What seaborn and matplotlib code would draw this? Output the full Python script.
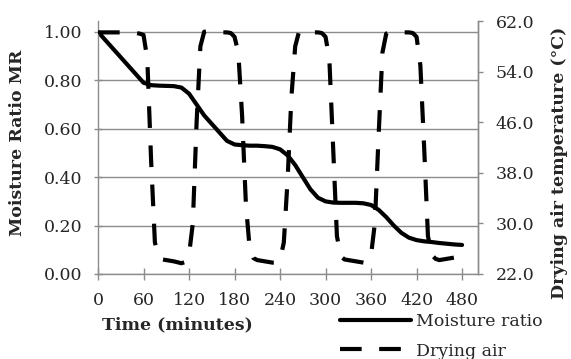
import matplotlib
matplotlib.use("Agg")
import matplotlib.pyplot as plt
import seaborn as sns
import numpy as np

# ---- data ----
mr_time = [0, 10, 20, 30, 40, 50, 60, 70, 80, 90, 100, 110, 120, 130, 140, 150, 160,
           170, 180, 190, 200, 210, 220, 230, 240, 250, 260, 270, 280, 290, 300, 310,
           320, 330, 340, 350, 360, 370, 380, 390, 400, 410, 420, 430, 440, 450, 460,
           470, 480]
moisture_ratio = [1.00, 0.965, 0.93, 0.895, 0.86, 0.825, 0.79, 0.78, 0.778, 0.777, 0.776,
                  0.77, 0.745, 0.70, 0.655, 0.62, 0.585, 0.55, 0.535, 0.532, 0.53, 0.53,
                  0.528, 0.525, 0.515, 0.49, 0.45, 0.40, 0.35, 0.315, 0.30, 0.295, 0.294,
                  0.294, 0.294, 0.292, 0.285, 0.265, 0.235, 0.20, 0.17, 0.15, 0.14, 0.135,
                  0.132, 0.128, 0.125, 0.122, 0.12]

air_time = [0, 10, 20, 30, 40, 50, 55, 60, 65, 70, 75, 80, 85, 90, 100, 110, 115, 120,
            125, 130, 135, 140, 145, 150, 160, 170, 175, 180, 185, 190, 195, 200, 205,
            210, 220, 230, 235, 240, 245, 250, 255, 260, 265, 270, 280, 290, 295, 300,
            305, 310, 315, 320, 325, 330, 340, 350, 355, 360, 365, 370, 375, 380, 385,
            390, 400, 410, 415, 420, 425, 430, 435, 440, 445, 450, 460, 470, 480]
air_temp = [60.2, 60.2, 60.2, 60.2, 60.2, 60.1, 60.0, 59.8, 56, 40, 27, 24.6, 24.3, 24.2,
            24.0, 23.7, 23.9, 25, 30, 46, 58, 60.3, 60.4, 60.3, 60.2, 60.2, 60.1, 59.5,
            57, 47, 33, 26, 24.5, 24.2, 24.0, 23.8, 23.8, 24.2, 27, 37, 50, 58, 60.3,
            60.3, 60.2, 60.2, 60.1, 59.5, 56, 42, 28, 24.8, 24.3, 24.2, 24.0, 23.8, 24.0,
            25, 30, 44, 57, 60, 60.3, 60.3, 60.2, 60.2, 60.1, 59.5, 55, 42, 28, 25,
            24.4, 24.2, 24.4, 24.6, 24.9]

x_ticks = [0, 60, 120, 180, 240, 300, 360, 420, 480]
mr_ticks = [0.0, 0.2, 0.4, 0.6, 0.8, 1.0]
temp_ticks = [22.0, 30.0, 38.0, 46.0, 54.0, 62.0]

# ---- style ----
sns.set_theme(style="white")
plt.rcParams["font.family"] = ["DejaVu Serif"]
FS = 12.5
GRAY = "#8c8c8c"

fig = plt.figure(figsize=(5.71, 3.59), dpi=100)
ax = fig.add_axes([98 / 571, 1 - 274 / 359, 380 / 571, 253 / 359])
ax2 = ax.twinx()

sns.lineplot(x=mr_time, y=moisture_ratio, ax=ax, color="black", linewidth=3.0,
             label="Moisture ratio", legend=False)
sns.lineplot(x=air_time, y=air_temp, ax=ax2, color="black", linewidth=3.0,
             label="Drying air", legend=False)

mr_line = ax.get_lines()[0]
air_line = ax2.get_lines()[0]
air_line.set_linestyle((0, (5.2, 4.2)))

ax.set_xlim(0, 501)
ax.set_ylim(0, 1.045)
ax2.set_ylim(22, 62)

ax.set_xticks(x_ticks)
ax.set_xticklabels([str(v) for v in x_ticks])
ax.set_yticks(mr_ticks)
ax.set_yticklabels([f"{v:.2f}" for v in mr_ticks])
ax2.set_yticks(temp_ticks)
ax2.set_yticklabels([f"{v:.1f}" for v in temp_ticks])

ax.grid(axis="y", color=GRAY, lw=1.0)
ax.set_axisbelow(True)

for a in (ax, ax2):
    a.spines["top"].set_visible(False)
    for s in ("left", "right", "bottom"):
        a.spines[s].set_color(GRAY)
        a.spines[s].set_linewidth(1.0)
ax2.spines["left"].set_visible(False)
ax2.spines["bottom"].set_visible(False)

ax.tick_params(axis="x", direction="inout", length=8.5, width=1.0, color=GRAY,
               labelsize=FS, pad=9, bottom=True)
ax.tick_params(axis="y", direction="inout", length=5.8, width=1.0, color=GRAY,
               labelsize=FS, pad=8, left=True)
ax2.tick_params(axis="y", direction="out", length=3.6, width=1.0, color=GRAY,
                labelsize=FS, pad=9, right=True)

ax.set_xlabel("Time (minutes)", fontsize=FS, fontweight="bold")
ax.xaxis.set_label_coords((177 - 98) / 380, (274 - 316) / 253)
ax.set_ylabel("Moisture Ratio MR", fontsize=FS, fontweight="bold")
ax.yaxis.set_label_coords(-(98 - 18) / 380, (274 - 143) / 253)
ax2.set_ylabel("Drying air temperature (°C)", fontsize=FS, fontweight="bold")
ax2.yaxis.set_label_coords((560 - 98) / 380, (274 - 163) / 253)
ax2.yaxis.label.set_va("center")
ax.yaxis.label.set_va("center")

fig.legend(handles=[mr_line, air_line], labels=["Moisture ratio", "Drying air"],
           loc="upper left", bbox_to_anchor=(340 / 571, 1 - 313 / 359),
           frameon=False, fontsize=FS, handlelength=4.1, handletextpad=0.3,
           labelspacing=0.72, borderpad=0, borderaxespad=0)

fig.savefig("out.png", dpi=100)
